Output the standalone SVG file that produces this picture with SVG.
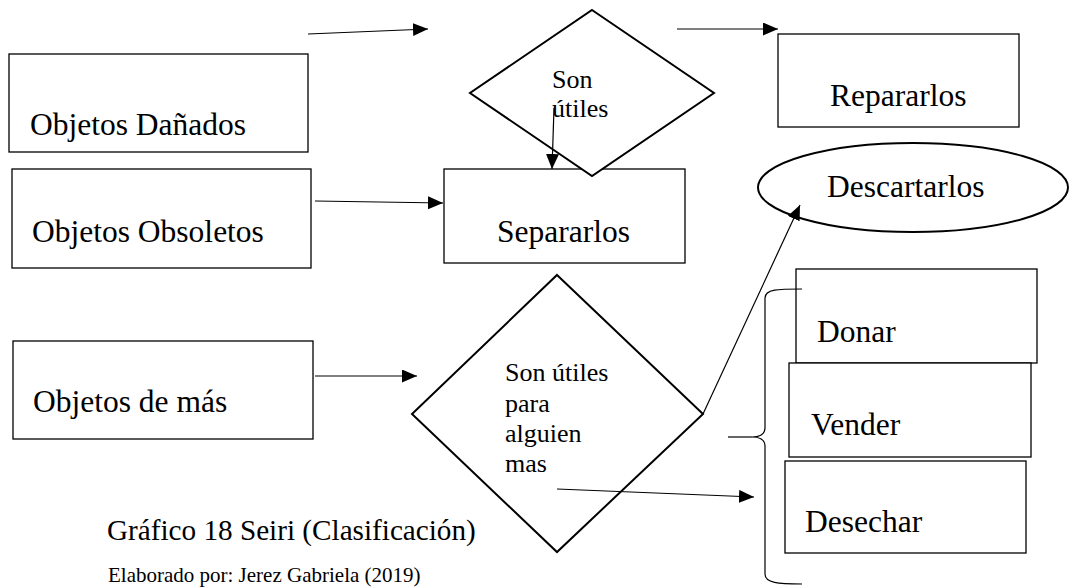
<svg xmlns="http://www.w3.org/2000/svg" width="1070" height="588" viewBox="0 0 1070 588">
<defs>
<marker id="ah" markerUnits="userSpaceOnUse" markerWidth="16" markerHeight="14" refX="15" refY="6.5" orient="auto">
<path d="M0,0 L15,6.5 L0,13 z" fill="#000"/>
</marker>
<style>
.box{fill:#fff;stroke:#000;stroke-width:1.3}
.dia{fill:#fff;stroke:#000;stroke-width:2}
.lbl{font-size:31.5px;fill:#000}
.sm{font-size:26px;fill:#000}
.cap{fill:#000}
.con{fill:none;stroke:#000;stroke-width:1.2}
</style>
</defs>
<rect width="1070" height="588" fill="#fff"/>
<g font-family="Liberation Serif, DejaVu Serif, serif">
<g id="n-danados">
<rect class="box" x="9" y="54" width="299" height="98"/>
<text class="lbl" x="30" y="135">Objetos Dañados</text>
</g>
<g id="n-obsoletos">
<rect class="box" x="12" y="169" width="299" height="99"/>
<text class="lbl" x="32" y="242">Objetos Obsoletos</text>
</g>
<g id="n-demas">
<rect class="box" x="13" y="341" width="300" height="98"/>
<text class="lbl" x="33" y="412">Objetos de más</text>
</g>
<g id="n-separarlos">
<rect class="box" x="444" y="169" width="241" height="94"/>
<text class="lbl" x="497" y="242">Separarlos</text>
</g>
<g id="n-utiles">
<polygon class="dia" points="592,10 714,93 592,176 470,93"/>
<text class="sm" x="552" y="88">Son</text>
<text class="sm" x="552" y="117">útiles</text>
</g>
<g id="n-reparar">
<rect class="box" x="778" y="34" width="241" height="93"/>
<text class="lbl" x="830" y="106">Repararlos</text>
</g>
<g id="n-descartar">
<ellipse cx="913" cy="187.5" rx="155" ry="44.5" fill="#fff" stroke="#000" stroke-width="2"/>
<text class="lbl" x="827" y="197">Descartarlos</text>
</g>
<g id="n-alguien">
<polygon class="dia" points="557,275 703,414 557,552 412,414"/>
<text class="sm" x="505" y="381">Son útiles</text>
<text class="sm" x="505" y="412">para</text>
<text class="sm" x="505" y="442">alguien</text>
<text class="sm" x="505" y="472">mas</text>
</g>
<g id="n-donar">
<rect class="box" x="796" y="269" width="241" height="94"/>
<text class="lbl" x="817" y="342">Donar</text>
</g>
<g id="n-vender">
<rect class="box" x="789" y="363" width="242" height="94"/>
<text class="lbl" x="811" y="435">Vender</text>
</g>
<g id="n-desechar">
<rect class="box" x="785" y="461" width="241" height="92"/>
<text class="lbl" x="805" y="532">Desechar</text>
</g>

<g id="connectors">
<line class="con" x1="308" y1="34" x2="428" y2="29" marker-end="url(#ah)"/>
<line class="con" x1="677" y1="29" x2="778" y2="29" marker-end="url(#ah)"/>
<line class="con" x1="554" y1="108" x2="552" y2="169" marker-end="url(#ah)"/>
<line class="con" x1="315" y1="201" x2="443" y2="203" marker-end="url(#ah)"/>
<line class="con" x1="315" y1="376" x2="417" y2="376" marker-end="url(#ah)"/>
<line class="con" x1="703" y1="414" x2="800" y2="205" marker-end="url(#ah)"/>
<line class="con" x1="557" y1="489" x2="754" y2="497" marker-end="url(#ah)"/>
<line class="con" x1="728" y1="437" x2="752" y2="437"/>
<path class="con" d="M802,289 C778,289 765,289 765,298 L765,428 C765,435 758,437 752,437 C758,437 765,439 765,446 L765,574 C765,583 778,584 802,584"/>
</g>

<g id="caption">
<text class="cap" x="107" y="540" font-size="29.2">Gráfico 18 Seiri (Clasificación)</text>
<text class="cap" x="108" y="582" font-size="21">Elaborado por: Jerez Gabriela (2019)</text>
</g>
</g>
</svg>
